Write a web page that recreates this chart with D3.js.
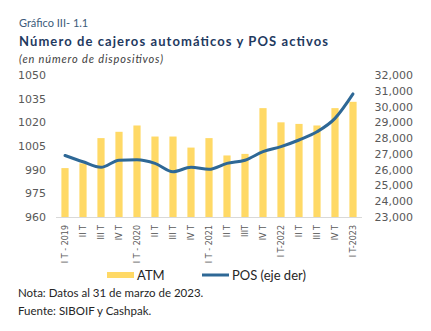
<!DOCTYPE html>
<html>
<head>
<meta charset="utf-8">
<script src="https://cdn.jsdelivr.net/npm/d3@7"></script>
<style>
    body { margin: 0; background: #fff; }
    svg { display: block; }
    .tick text { font-family: "DejaVu Sans", sans-serif; fill: #595959; }
</style>
</head>
<body>
<svg id="chart" width="431" height="331"></svg>
<script>
// trimestres
const quarters = [
    'I T - 2019', 'II T', 'III T', 'IV T',
    'I T - 2020', 'II T', 'III T', 'IV T',
    'I T - 2021', 'II T', 'IIIT', 'IV T',
    'I T-2022', 'II T', 'III T', 'IV T',
    'I T-2023'
];
// cajeros automáticos (eje izquierdo)
const atmValues = [991, 994, 1010, 1014, 1018, 1011, 1011, 1004, 1010, 999, 1000, 1029, 1020, 1019, 1018, 1029, 1033];
// POS activos (eje derecho)
const posValues = [26900, 26500, 26150, 26600, 26630, 26400, 25870, 26150, 26020, 26400, 26600, 27140, 27460, 27880, 28400, 29250, 30800];
const leftTicks = [960, 975, 990, 1005, 1020, 1035, 1050];
const rightTicks = [23000, 24000, 25000, 26000, 27000, 28000, 29000, 30000, 31000, 32000];

const svg = d3.select('#chart');
const plot = { left: 56, right: 362, top: 75, bottom: 217 };

const x = d3.scaleBand()
    .domain(d3.range(quarters.length))
    .range([plot.left, plot.right])
    .paddingInner(0.6)
    .paddingOuter(0.3);

const yLeft = d3.scaleLinear().domain([960, 1050]).range([plot.bottom, plot.top]);
const yRight = d3.scaleLinear().domain([23000, 32000]).range([plot.bottom, plot.top]);

// títulos
svg.append('text')
    .attr('x', 19).attr('y', 27)
    .attr('font-family', 'Lato, sans-serif')
    .attr('font-size', 11)
    .attr('fill', '#3b5b7a')
    .text('Gráfico III- 1.1');

svg.append('text')
    .attr('x', 19).attr('y', 46)
    .attr('font-family', 'Lato, sans-serif')
    .attr('font-size', 13)
    .attr('font-weight', 'bold')
    .attr('fill', '#1f3a5f')
    .attr('textLength', 309)
    .attr('lengthAdjust', 'spacing')
    .text('Número de cajeros automáticos y POS activos');

svg.append('text')
    .attr('x', 19).attr('y', 63)
    .attr('font-family', 'Lato, sans-serif')
    .attr('font-size', 11)
    .attr('font-style', 'italic')
    .attr('fill', '#404040')
    .attr('textLength', 144)
    .attr('lengthAdjust', 'spacing')
    .text('(en número de dispositivos)');

// barras
svg.append('g')
    .selectAll('rect')
    .data(atmValues)
    .enter()
    .append('rect')
    .attr('x', (d, i) => x(i))
    .attr('width', x.bandwidth())
    .attr('y', d => yLeft(d))
    .attr('height', d => yLeft(960) - yLeft(d))
    .attr('fill', '#ffd966');

// eje x
svg.append('line')
    .attr('x1', plot.left).attr('x2', plot.right)
    .attr('y1', plot.bottom + 0.5).attr('y2', plot.bottom + 0.5)
    .attr('stroke', '#d9d9d9');

svg.append('g')
    .selectAll('text')
    .data(quarters)
    .enter()
    .append('text')
    .attr('transform', (d, i) => `translate(${x(i) + x.bandwidth() / 2 + 3}, 225) rotate(-90)`)
    .attr('text-anchor', 'end')
    .attr('font-family', '"DejaVu Sans", sans-serif')
    .attr('font-size', 8)
    .attr('fill', '#595959')
    .text(d => d);

// ejes y
const axisL = svg.append('g')
    .attr('transform', `translate(${plot.left - 10},0)`)
    .call(d3.axisLeft(yLeft).tickValues(leftTicks).tickSize(0).tickPadding(0).tickFormat(d3.format('d')));
axisL.select('.domain').remove();
axisL.selectAll('text').attr('font-size', 11);

const axisR = svg.append('g')
    .attr('transform', `translate(413,0)`)
    .call(d3.axisLeft(yRight).tickValues(rightTicks).tickSize(0).tickPadding(0).tickFormat(d3.format(',')));
axisR.select('.domain').remove();
axisR.selectAll('text').attr('font-size', 11);

// línea POS
const line = d3.line()
    .x((d, i) => x(i) + x.bandwidth() / 2)
    .y(d => yRight(d))
    .curve(d3.curveMonotoneX);

svg.append('path')
    .datum(posValues)
    .attr('d', line)
    .attr('fill', 'none')
    .attr('stroke', '#2e6896')
    .attr('stroke-width', 3)
    .attr('stroke-linecap', 'round');

// leyenda
const legend = svg.append('g')
    .attr('font-family', 'Lato, sans-serif')
    .attr('font-size', 13)
    .attr('fill', '#262626');
legend.append('rect')
    .attr('x', 107).attr('y', 272).attr('width', 27).attr('height', 6)
    .attr('fill', '#ffd966');
legend.append('text').attr('x', 137).attr('y', 280).text('ATM');
legend.append('line')
    .attr('x1', 202).attr('x2', 229).attr('y1', 275).attr('y2', 275)
    .attr('stroke', '#2e6896').attr('stroke-width', 3);
legend.append('text').attr('x', 232).attr('y', 280).text('POS (eje der)');

// notas
const notes = svg.append('g')
    .attr('font-family', 'Lato, sans-serif')
    .attr('font-size', 11.5)
    .attr('fill', '#262626');
notes.append('text').attr('x', 18).attr('y', 297).text('Nota: Datos al 31 de marzo de 2023.');
notes.append('text').attr('x', 18).attr('y', 315).text('Fuente: SIBOIF y Cashpak.');
</script>
</body>
</html>
